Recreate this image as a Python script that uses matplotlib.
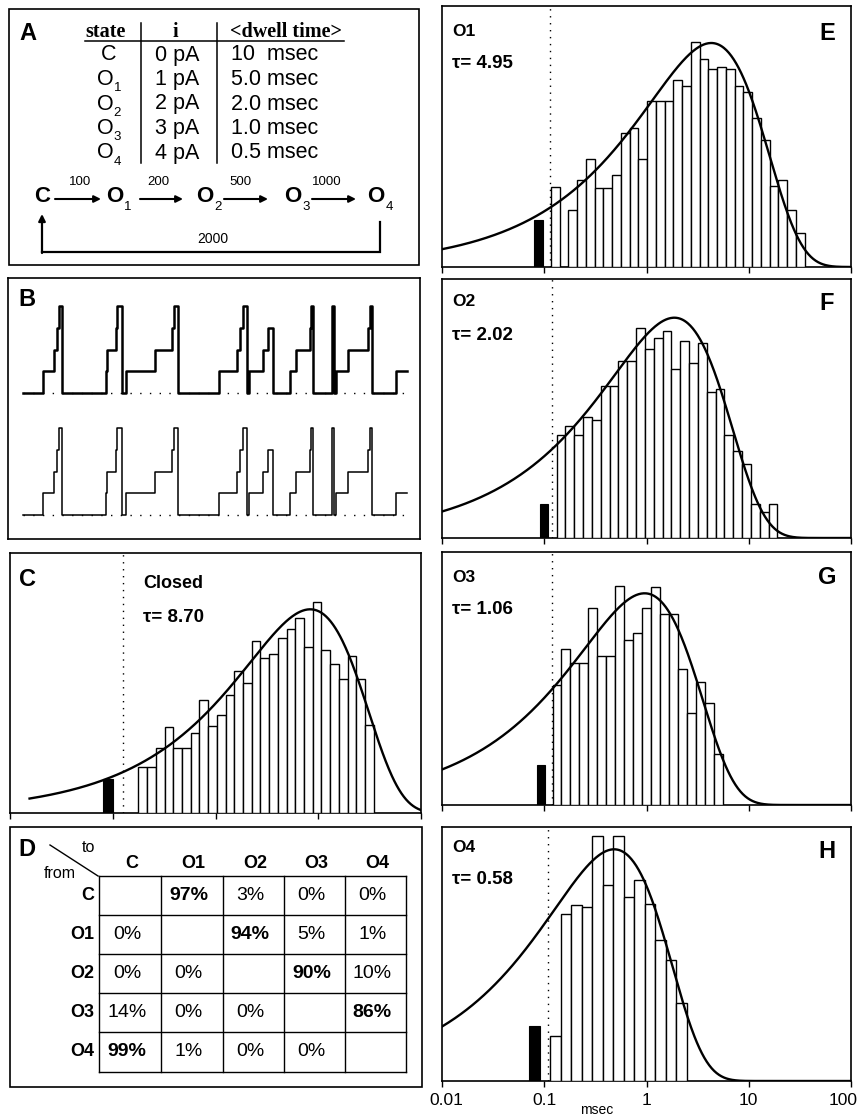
import numpy as np
import matplotlib
matplotlib.use("Agg")
import matplotlib.pyplot as plt
from matplotlib.patches import Rectangle
from matplotlib.ticker import NullLocator

plt.rcParams['font.family'] = ['Liberation Sans', 'DejaVu Sans']

# ---------------- data ----------------
# Panel A: model
states = ['C', 'O1', 'O2', 'O3', 'O4']
current_pA = ['0 pA', '1 pA', '2 pA', '3 pA', '4 pA']
dwell_time = ['10  msec', '5.0 msec', '2.0 msec', '1.0 msec', '0.5 msec']
forward_rates = ['100', '200', '500', '1000']
return_rate = '2000'

# Panel B: simulated record (transition times in ms, level in pA after each transition)
trace_t_ms = [3.8, 8.7, 11.5, 12.3, 12.7, 13.5, 24.5, 24.8, 27.0, 27.3, 28.4,
              29.5, 36.8, 40.9, 41.5, 42.6, 52.8, 57.3, 58.0, 58.7, 59.7,
              60.3, 63.8, 65.1, 66.3, 70.5, 72.0, 75.5, 75.7, 76.2, 80.9,
              81.4, 82.0, 85.1, 90.1, 90.4, 90.9, 97.0]
trace_level = [0, 1, 2, 3, 4, 0, 1, 2, 3, 4, 0,
               1, 2, 3, 4, 0, 1, 2, 3, 4, 0,
               1, 2, 3, 0, 1, 2, 3, 4, 0, 4,
               0, 1, 2, 3, 4, 0, 1]
trace_end_ms = 99.7

# Panels C, E-H: dwell-time histograms (sqrt of counts, arbitrary units)
closed_h = [46, 46, 65.3, 86, 65.3, 65.3, 80, 112.7, 86.7, 98.3, 117.7, 141.7,
            130, 171.7, 155.3, 159.3, 175, 184.3, 195, 166, 211, 162.7, 148.7,
            134.3, 156.7, 134.3, 87.7]
o1_h = [80, 0, 56.7, 86.7, 108.3, 79.3, 79.3, 92.3, 134, 138.7, 108, 166, 166,
        166, 186.7, 180.7, 225, 207.7, 197.7, 200, 197.7, 180.7, 175, 149.3,
        126.7, 80.7, 87.3, 57.3, 34.3]
o2_h = [103, 112.3, 103, 121.3, 118, 152, 152, 177.3, 177.3, 210.3, 189, 200.3,
        207.3, 169, 197.3, 175.3, 195.3, 145.7, 149, 103, 87.3, 73.7, 33.7,
        26.3, 34.3]
o3_h = [120, 156, 142.3, 142.3, 196.7, 149, 149, 219, 165, 171.7, 196.7, 218.3,
        190.7, 190.7, 135.7, 92.3, 123.3, 102.3, 50.7]
o4_h = [45, 167.3, 175.7, 174.3, 245, 196, 245, 184, 200.7, 176.7, 140.7,
        120.7, 78.3]
hist_names = ['Closed', 'O1', 'O2', 'O3', 'O4']
tau_labels = ['8.70', '4.95', '2.02', '1.06', '0.58']
first_edge_ms = [0.178, 0.116, 0.1318, 0.1205, 0.1145]
bin_decades = [0.0848, 0.0856, 0.0864, 0.0875, 0.1025]
short_lo_ms = [0.080, 0.079, 0.091, 0.084, 0.0714]
short_hi_ms = [0.100, 0.098, 0.109, 0.101, 0.0914]
short_h = [34.3, 46.7, 33.7, 40, 55]
deadtime_ms = [0.127, 0.115, 0.12, 0.118, 0.11]
fit_peak_ms = [8.35, 4.3, 1.87, 0.957, 0.482]
fit_amp = [203.7, 224, 220.3, 211.7, 231.7]
fit_start_ms = [0.0155, 0.01, 0.01, 0.01, 0.01]
xticks_ms = [0.01, 0.1, 1, 10, 100]
xtick_labels = ['0.01', '0.1', '1', '10', '100']

# Panel D: transition probabilities (%), None on the diagonal
trans_pct = [[None, 97, 3, 0, 0],
             [0, None, 94, 5, 1],
             [0, 0, None, 90, 10],
             [14, 0, 0, None, 86],
             [99, 1, 0, 0, None]]

# ---------------- figure ----------------
W, H = 861, 1115
fig = plt.figure(figsize=(W / 100, H / 100), dpi=100)


def add_ax(x0, y0, x1, y1):
    return fig.add_axes([x0 / W, 1 - y1 / H, (x1 - x0) / W, (y1 - y0) / H])


ov = fig.add_axes([0, 0, 1, 1])
ov.set_xlim(0, W)
ov.set_ylim(H, 0)
ov.axis('off')
ov.set_zorder(10)

LW_BOX = 1.2


def sub_text(x, y, base, sub, size, subsize, weight, subweight='normal', dy=-1.5, dx=0.3, ha='center'):
    t = ov.text(x, y, base, ha=ha, va='center', fontsize=size, fontweight=weight)
    ov.annotate(sub, xy=(1, 0.22), xycoords=t, xytext=(dx, dy), textcoords='offset points',
                ha='left', va='center', fontsize=subsize, fontweight=subweight)
    return t


# ---------- Panel A ----------
ov.add_patch(Rectangle((9, 9), 410, 256, fill=False, lw=LW_BOX, ec='k'))
ov.text(28, 34, 'A', ha='center', va='center', fontsize=17, fontweight='bold')
serif = ['Liberation Serif', 'DejaVu Serif']
ov.text(106, 32, 'state', ha='center', va='center', fontsize=14.5, fontweight='bold', family=serif)
ov.text(175, 32, 'i', ha='center', va='center', fontsize=14.5, fontweight='bold', family=serif)
ov.text(286, 32, '<dwell time>', ha='center', va='center', fontsize=14.5, fontweight='bold', family=serif)
ov.plot([85, 344], [41, 41], color='k', lw=1.1)
ov.plot([141, 141], [23, 163], color='k', lw=1.1)
ov.plot([217, 217], [23, 163], color='k', lw=1.1)
for i, (s, cur, dw) in enumerate(zip(states, current_pA, dwell_time)):
    y = 55 + 24.5 * i
    if len(s) > 1:
        sub_text(105, y, s[0], s[1:], 15.5, 9.5, 'normal', dy=-2)
    else:
        ov.text(109, y, s, ha='center', va='center', fontsize=15.5)
    ov.text(177, y, cur, ha='center', va='center', fontsize=15.5)
    ov.text(231, y, dw, ha='left', va='center', fontsize=15.5)

# kinetic scheme
scheme_x = [42, 115, 205, 293, 376]
ys = 197
ov.text(scheme_x[0], ys, 'C', ha='center', va='center', fontsize=16, fontweight='bold')
for k in range(1, 5):
    sub_text(scheme_x[k], ys, states[k][0], states[k][1:], 16, 9.5, 'bold', dy=-3, dx=0.5)
arrow_x = [(55, 101), (140, 183), (224, 268), (312, 356)]
label_x = [80, 158, 240, 327]
for (a0, a1), lx, r in zip(arrow_x, label_x, forward_rates):
    ov.annotate('', xy=(a1, 199), xytext=(a0, 199),
                arrowprops=dict(arrowstyle='-|>', lw=1.5, color='k', mutation_scale=10, shrinkA=0, shrinkB=0))
    ov.text(lx, 182, r, ha='center', va='center', fontsize=9.5)
ov.plot([380, 380, 42], [222, 252, 252], color='k', lw=1.6, solid_joinstyle='miter')
ov.annotate('', xy=(42, 214), xytext=(42, 253),
            arrowprops=dict(arrowstyle='-|>', lw=1.6, color='k', mutation_scale=10, shrinkA=0, shrinkB=0))
ov.text(213, 239, return_rate, ha='center', va='center', fontsize=10)

# ---------- Panel B ----------
axb = add_ax(8, 278, 420, 539)
step_px_per_pA = 21.7
low_base_px = 24
ylo = -low_base_px / step_px_per_pA
axb.set_ylim(ylo, ylo + 261 / step_px_per_pA)
axb.set_xlim(0, 103)
upper_offset = (539 - 393 - low_base_px) / step_px_per_pA
tt = np.append(trace_t_ms, trace_end_ms)
ll = np.append(trace_level, trace_level[-1]).astype(float)
axb.plot(tt, ll + upper_offset, drawstyle='steps-post', color='k', lw=1.8)
axb.plot(tt, ll, drawstyle='steps-post', color='k', lw=1.1)
for off in (upper_offset, 0):
    axb.plot([trace_t_ms[0], trace_end_ms], [off, off], color='k', lw=1, ls=(0, (1, 6)), zorder=0)
axb.set_xticks([])
axb.set_yticks([])
for sp in axb.spines.values():
    sp.set_linewidth(LW_BOX)
ov.text(27, 299, 'B', ha='center', va='center', fontsize=17, fontweight='bold')

# ---------- histograms ----------
boxes = [(10, 553, 421, 813), (442, 6, 851, 267), (442, 279, 851, 538),
         (442, 552, 851, 805), (442, 827, 851, 1081)]
heights = [closed_h, o1_h, o2_h, o3_h, o4_h]
label_dx_pt = [3.0, 0, 0, 0, -6.0]
for i in range(5):
    x0, y0, x1, y1 = boxes[i]
    ax = add_ax(x0, y0, x1, y1)
    ax.set_xscale('log')
    ax.set_xlim(0.01, 100)
    ax.set_ylim(0, y1 - y0)
    h = np.asarray(heights[i], float)
    edges = first_edge_ms[i] * 10 ** (bin_decades[i] * np.arange(len(h) + 1))
    ax.bar(edges[:-1], h, width=np.diff(edges), align='edge', facecolor='white',
           edgecolor='black', lw=1.0, zorder=3)
    ax.bar(short_lo_ms[i], short_h[i], width=short_hi_ms[i] - short_lo_ms[i], align='edge',
           facecolor='black', edgecolor='black', lw=0.8, zorder=3)
    ax.axvline(deadtime_ms[i], color='k', lw=1.0, ls=(0, (1, 4)), zorder=1)
    t = np.logspace(np.log10(fit_start_ms[i]), 2, 500)
    p = fit_peak_ms[i]
    ax.plot(t, fit_amp[i] * np.sqrt(t / p * np.exp(1 - t / p)), color='k', lw=1.7, zorder=4)
    ax.set_xticks(xticks_ms)
    ax.xaxis.set_minor_locator(NullLocator())
    ax.set_yticks([])
    ax.tick_params(axis='x', direction='out', length=4, width=1.0, pad=3)
    ax.set_xticklabels([])
    if i == 4:
        for v, lab, dx in zip(xticks_ms, xtick_labels, label_dx_pt):
            ax.annotate(lab, xy=(v, 0), xycoords=('data', 'axes fraction'),
                        xytext=(dx, -13.7), textcoords='offset points',
                        ha='center', va='center', fontsize=12.5, annotation_clip=False)
        ax.text(0.379, -0.115, 'msec', transform=ax.transAxes, ha='center', va='center', fontsize=10)
    for sp in ax.spines.values():
        sp.set_linewidth(LW_BOX)

# histogram labels
ov.text(27, 580, 'C', ha='center', va='center', fontsize=17, fontweight='bold')
ov.text(143, 583, hist_names[0], ha='left', va='center', fontsize=13, fontweight='bold')
ov.text(143, 618, '\u03c4= ' + tau_labels[0], ha='left', va='center', fontsize=13.5, fontweight='bold')
panel_letters = ['E', 'F', 'G', 'H']
name_y = [31, 302, 577, 848]
tau_y = [64, 335, 610, 880]
letter_y = [33, 303, 578, 851]
for k in range(4):
    ov.text(452, name_y[k], hist_names[k + 1], ha='left', va='center', fontsize=12.5, fontweight='bold')
    ov.text(452, tau_y[k], '\u03c4= ' + tau_labels[k + 1], ha='left', va='center', fontsize=13.5, fontweight='bold')
    ov.text(827, letter_y[k], panel_letters[k], ha='center', va='center', fontsize=17, fontweight='bold')

# ---------- Panel D ----------
ov.add_patch(Rectangle((10, 827), 412, 260, fill=False, lw=LW_BOX, ec='k'))
ov.text(27, 850, 'D', ha='center', va='center', fontsize=17, fontweight='bold')
ov.plot([50, 98], [845, 876], color='k', lw=1.0)
ov.text(88, 848, 'to', ha='center', va='center', fontsize=11.5)
ov.text(60, 873, 'from', ha='center', va='center', fontsize=11.5)
col_x = [99, 161, 222.5, 284, 345, 405.5]
row_y = [876, 915, 954, 993, 1032, 1072]
for x in col_x:
    ov.plot([x, x], [row_y[0], row_y[-1]], color='k', lw=1.0)
for y in row_y:
    ov.plot([col_x[0], col_x[-1]], [y, y], color='k', lw=1.0)
for j, s in enumerate(states):
    cx = (col_x[j] + col_x[j + 1]) / 2
    ov.text(cx + 2, 863, s, ha='center', va='center', fontsize=13, fontweight='bold')
for i, s in enumerate(states):
    cy = (row_y[i] + row_y[i + 1]) / 2
    ov.text(94, cy, s, ha='right', va='center', fontsize=13, fontweight='bold')
    row = trans_pct[i]
    mx = max(v for v in row if v is not None)
    for j, v in enumerate(row):
        if v is None:
            continue
        cx = (col_x[j] + col_x[j + 1]) / 2 - 3
        ov.text(cx, cy, f'{v}%', ha='center', va='center', fontsize=14,
                fontweight='bold' if v == mx else 'normal')

fig.savefig('out.png', dpi=100)
